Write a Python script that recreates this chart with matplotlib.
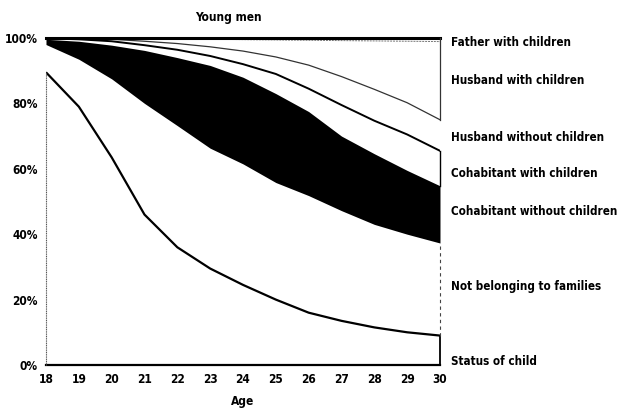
import numpy as np
import matplotlib
matplotlib.use("Agg")
import matplotlib.pyplot as plt
from matplotlib import font_manager
from matplotlib.font_manager import FontProperties

# Living arrangements of young men by age, share of each status (%)
ages = [18, 19, 20, 21, 22, 23, 24, 25, 26, 27, 28, 29, 30]
status_of_child = [89.5, 79.0, 63.5, 46.0, 36.0, 29.5, 24.5, 20.0, 16.0, 13.5, 11.5, 10.0, 9.0]
not_belonging = [8.5, 14.5, 24.0, 34.0, 37.2, 36.8, 37.0, 35.8, 35.8, 33.7, 31.5, 30.0, 28.3]
cohabitant_without = [1.6, 5.5, 10.3, 16.2, 20.8, 25.3, 26.5, 27.2, 25.7, 22.8, 21.6, 19.5, 17.5]
cohabitant_with = [0.3, 0.6, 1.2, 1.6, 2.4, 2.9, 4.0, 6.0, 7.0, 9.5, 10.1, 11.0, 10.7]
husband_without = [0.1, 0.3, 0.6, 1.2, 1.9, 2.8, 4.0, 5.2, 7.2, 8.7, 9.6, 9.7, 9.5]
husband_with = [0.0, 0.1, 0.3, 0.8, 1.4, 2.3, 3.5, 5.2, 7.6, 11.0, 14.8, 18.8, 23.9]
father_with = [0.0, 0.0, 0.1, 0.2, 0.3, 0.4, 0.5, 0.6, 0.7, 0.8, 0.9, 1.0, 1.1]

labels = ["Status of child", "Not belonging to families", "Cohabitant without children",
          "Cohabitant with children", "Husband without children", "Husband with children",
          "Father with children"]
y_ticks = [0, 20, 40, 60, 80, 100]
y_ticklabels = ["0%", "20%", "40%", "60%", "80%", "100%"]

# pick a narrow face if one is available
cond = FontProperties(family="DejaVu Sans", stretch="condensed", weight="bold")
path = font_manager.findfont(cond, fallback_to_default=True)
if "Condensed" in path:
    FP = dict(fontfamily="DejaVu Sans", fontstretch="condensed", fontweight="bold")
    FS = 8.6
    FS_R = 8.4
else:
    FP = dict(fontfamily="DejaVu Sans", fontweight="normal")
    FS = 7.8
    FS_R = 7.6

shares = np.array([status_of_child, not_belonging, cohabitant_without, cohabitant_with,
                   husband_without, husband_with, father_with])
tops = np.cumsum(shares, axis=0)
x = np.array(ages)

fig = plt.figure(figsize=(6.19, 4.08), dpi=100)
ax = fig.add_axes([0.0743, 0.1054, 0.7108 - 0.0743, 0.9069 - 0.1054])
ax.set_xlim(18, 30)
ax.set_ylim(0, 100)
for s in ax.spines.values():
    s.set_visible(False)

# black band: cohabitants without children
ax.fill_between(x, tops[1], tops[2], color="black", linewidth=0)

# boundary lines
ax.plot(x, tops[0], color="black", lw=1.6, solid_capstyle="butt")
ax.plot(x, tops[3], color="black", lw=1.4)
ax.plot(x, tops[4], color="#333333", lw=0.9)
ax.plot(x, tops[5], color="#777777", lw=0.7, ls=(0, (2, 1)))
ax.plot([18, 30], [100, 100], color="black", lw=2.2, clip_on=False)
ax.plot([18, 30], [0, 0], color="black", lw=1.6, clip_on=False)

# side edges of the bands
ax.plot([18, 18], [0, tops[0][0]], color="#555555", lw=0.8, ls=(0, (1, 0.6)), clip_on=False)
ax.plot([30, 30], [0, tops[0][-1]], color="black", lw=1.3, clip_on=False)
ax.plot([30, 30], [tops[0][-1], tops[1][-1]], color="#444444", lw=0.8, ls=(0, (3, 3)), clip_on=False)
ax.plot([30, 30], [tops[2][-1], tops[3][-1]], color="black", lw=1.0, clip_on=False)
ax.plot([30, 30], [tops[4][-1], 100], color="#333333", lw=0.9, clip_on=False)

ax.set_xticks(ages)
ax.set_yticks(y_ticks)
ax.set_yticklabels(y_ticklabels)
ax.tick_params(length=0, labelsize=FS, pad=6)
for t in ax.get_xticklabels() + ax.get_yticklabels():
    t.set(**FP)
ax.set_xlabel("Age", fontsize=FS, labelpad=6, **FP)
ax.set_title("Young men", fontsize=FS, pad=12, x=0.462, **FP)

# category labels at the right
label_y = [1, 24, 47, 58.5, 69.5, 87, 98.5]
for lab, yy in zip(labels, label_y):
    ax.text(1.027, yy / 100, lab, transform=ax.transAxes, fontsize=FS_R,
            va="center", ha="left", **FP)

fig.savefig("out.png", dpi=100)
